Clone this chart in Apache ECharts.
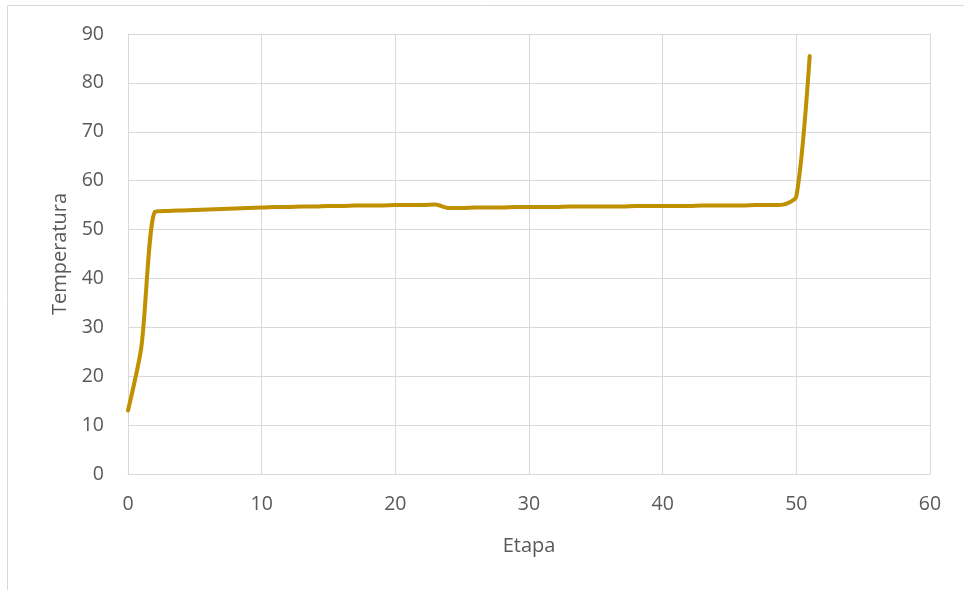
<!DOCTYPE html>
<html>
<head>
<meta charset="utf-8">
<script src="https://cdn.jsdelivr.net/npm/echarts@6/dist/echarts.min.js"></script>
<style>
  html, body { margin: 0; padding: 0; background: #fff; }
  #box { width: 964px; height: 590px; }
</style>
</head>
<body>
<div id="box"></div>
<script>
// etapas (x) y temperatura (y)
let etapas = [0, 1, 2, 3, 4, 5, 6, 7, 8, 9, 10, 11, 12, 13, 14, 15, 16, 17, 18, 19, 20,
  21, 22, 23, 24, 25, 26, 27, 28, 29, 30, 31, 32, 33, 34, 35, 36, 37, 38, 39, 40,
  41, 42, 43, 44, 45, 46, 47, 48, 49, 50, 51];
let temperatura = [13.0, 26.0, 53.6, 53.8, 53.9, 54.0, 54.1, 54.2, 54.3, 54.4, 54.5,
  54.6, 54.6, 54.7, 54.7, 54.8, 54.8, 54.9, 54.9, 54.9, 55.0,
  55.0, 55.0, 55.1, 54.4, 54.4, 54.5, 54.5, 54.5, 54.6, 54.6,
  54.6, 54.6, 54.7, 54.7, 54.7, 54.7, 54.7, 54.8, 54.8, 54.8,
  54.8, 54.8, 54.9, 54.9, 54.9, 54.9, 55.0, 55.0, 55.1, 56.8, 85.5];

let xTicks = { min: 0, max: 60, interval: 10 };
let yTicks = { min: 0, max: 90, interval: 10 };

let chart = echarts.init(document.getElementById("box"), null, { renderer: "canvas" });

let font = "'Open Sans', 'Noto Sans', sans-serif";
let grisTexto = "#595959";
let grisLinea = "#d9d9d9";

let option = {
  backgroundColor: "#fff",
  animation: false,
  textStyle: { fontFamily: font },
  graphic: [{
    type: "rect",
    shape: { x: 7.5, y: 5.5, width: 1000, height: 1000 },
    style: { fill: "none", stroke: grisLinea, lineWidth: 1 },
    silent: true
  }],
  grid: { left: 128, right: 34, top: 34, bottom: 116 },
  xAxis: {
    type: "value",
    min: xTicks.min, max: xTicks.max, interval: xTicks.interval,
    name: "Etapa",
    nameLocation: "middle",
    nameGap: 62,
    nameTextStyle: { color: grisTexto, fontSize: 20, fontFamily: font },
    axisLine: { show: true, lineStyle: { color: grisLinea, width: 1 } },
    axisTick: { show: false },
    axisLabel: { color: grisTexto, fontSize: 19.5, margin: 20, fontFamily: font },
    splitLine: { show: true, lineStyle: { color: grisLinea, width: 1 } }
  },
  yAxis: {
    type: "value",
    min: yTicks.min, max: yTicks.max, interval: yTicks.interval,
    name: "Temperatura",
    nameLocation: "middle",
    nameGap: 58,
    nameRotate: 90,
    nameTextStyle: { color: grisTexto, fontSize: 20, fontFamily: font },
    axisLine: { show: true, lineStyle: { color: grisLinea, width: 1 } },
    axisTick: { show: false },
    axisLabel: { color: grisTexto, fontSize: 19.5, margin: 24, fontFamily: font },
    splitLine: { show: true, lineStyle: { color: grisLinea, width: 1 } }
  },
  series: [{
    type: "line",
    data: etapas.map((e, i) => [e, temperatura[i]]),
    smooth: 0.25,
    showSymbol: false,
    lineStyle: { color: "#bf9000", width: 4, cap: "round", join: "round" },
    itemStyle: { color: "#bf9000" }
  }]
};

chart.setOption(option);
</script>
</body>
</html>
